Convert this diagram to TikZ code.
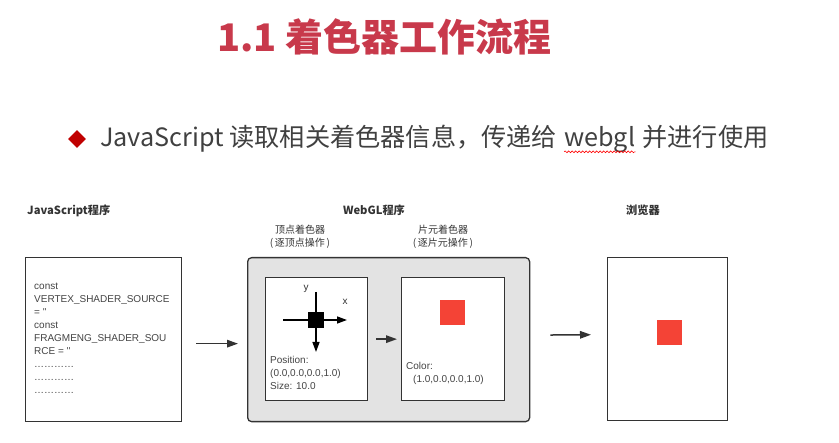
\documentclass[tikz,border=0pt]{standalone}
\usepackage{fontspec}
\setmainfont{Liberation Sans}
\newfontfamily\cjk{Noto Sans CJK SC}
\usetikzlibrary{arrows.meta,shapes.geometric,decorations.pathmorphing}
\definecolor{titlered}{HTML}{C8394B}
\definecolor{bulletred}{HTML}{C00000}
\definecolor{bodygray}{HTML}{404040}
\definecolor{inkgray}{HTML}{333333}
\definecolor{codegray}{HTML}{444444}
\definecolor{panelgray}{HTML}{E3E3E3}
\definecolor{pixelred}{HTML}{F44336}
\begin{document}
\begin{tikzpicture}[x=1pt,y=-1pt,
  titletext/.style={font=\cjk\bfseries\fontsize{38}{42}\selectfont, text=titlered, inner sep=0},
  bodytext/.style={font=\cjk\fontsize{25.2}{29}\selectfont, text=bodygray, inner sep=0},
  heading/.style={font=\cjk\bfseries\fontsize{11.2}{13}\selectfont, text=inkgray, inner sep=0},
  caption/.style={font=\cjk\fontsize{10}{13}\selectfont, text=inkgray, align=center, inner sep=0},
  codetext/.style={font=\fontsize{10}{13}\selectfont, text=codegray, align=left, inner sep=0, anchor=north west},
  frame/.style={draw=inkgray, line width=1.3pt, fill=white, anchor=north west, inner sep=0},
  pixel/.style={fill=pixelred, minimum size=25pt, inner sep=0, anchor=north west},
  flow/.style={draw=inkgray, line width=1.5pt, -{Triangle[length=11pt,width=7.5pt]}},
  axis/.style={draw=black, line width=1.4pt, -{Triangle[length=10pt,width=7pt]}}
]
\useasboundingbox (0,0) rectangle (839,443);

% heading
\node[titletext, anchor=west] (title) at (217,37) {1.1 着色器工作流程};

% bullet line
\node[diamond, fill=bulletred, minimum width=18pt, minimum height=18pt, inner sep=0] (dot) at (77,139) {};
\node[bodytext, anchor=west] (b1) at (100,139) {JavaScript 读取相关着色器信息，传递给};
\node[bodytext, anchor=base west] (b2) at ([xshift=6.8pt]b1.base east) {webgl};
\node[bodytext, anchor=base west] (b3) at ([xshift=6.8pt]b2.base east) {并进行使用};
\draw[red, line width=0.6pt, decorate, decoration={snake, amplitude=0.9pt, segment length=3.5pt}]
  ([yshift=-5pt]b2.base west) -- ([yshift=-5pt]b2.base east);

% stage headings
\node[heading, anchor=west] (hjs) at (27,211) {JavaScript程序};
\node[heading] (hgl) at (374,210) {WebGL程序};
\node[heading] (hbr) at (643,210) {浏览器};
\node[caption] (cvs) at (300,237) {顶点着色器\\(\,逐顶点操作\,)};
\node[caption] (cfs) at (443,237) {片元着色器\\(\,逐片元操作\,)};

% JavaScript program
\node[frame, minimum width=156pt, minimum height=164pt] (js) at (25,257) {};
\node[codetext] (code) at (34,283) {const\\VERTEX\_SHADER\_SOURCE\\= \textquotesingle\textquotesingle\\const\\FRAGMENG\_SHADER\_SOU\\RCE = \textquotesingle\textquotesingle\\…………\\…………\\…………};

% WebGL program
\node[frame, fill=panelgray, rounded corners=4pt, minimum width=282pt, minimum height=164pt] (gl) at (247,257) {};
\node[frame, minimum width=102pt, minimum height=123pt] (vs) at (265,277) {};
\node[frame, minimum width=103pt, minimum height=123pt] (fs) at (401,277) {};

% vertex shader: point with axes
\coordinate (xl) at (283,320);
\coordinate (xr) at (347,320);
\coordinate (yt) at (316,292);
\coordinate (yb) at (316,352);
\draw[axis] (xl) -- (xr);
\draw[axis] (yt) -- (yb);
\node[fill=black, minimum size=16pt, inner sep=0] (pt) at (316,320) {};
\node[font=\fontsize{10}{12}\selectfont, text=inkgray, inner sep=0] (ly) at (306,289) {y};
\node[font=\fontsize{10}{12}\selectfont, text=inkgray, inner sep=0] (lx) at (345,302) {x};
\node[codetext] (vsdata) at (270,356) {Position:\\(0.0,0.0,0.0,1.0)\\Size: 10.0};

% fragment shader: coloured pixel
\node[pixel] (fpx) at (440,300) {};
\node[codetext] (fsdata) at (406,362) {Color:\\\hspace*{7pt}(1.0,0.0,0.0,1.0)};

% browser
\node[frame, minimum width=120pt, minimum height=163pt] (br) at (607,257) {};
\node[pixel] (bpx) at (657,320) {};

% data flow
\draw[flow, shorten <=14pt, shorten >=9pt] ([yshift=-4pt]js.east) -- ([yshift=-4pt]gl.west);
\draw[flow, shorten <=8pt, shorten >=4pt] (vs.east) -- (fs.east -| fs.west);
\draw[flow, shorten <=20pt, shorten >=16pt] ([yshift=4.5pt]gl.east) -- ([yshift=4.5pt]br.west);
\end{tikzpicture}
\end{document}
